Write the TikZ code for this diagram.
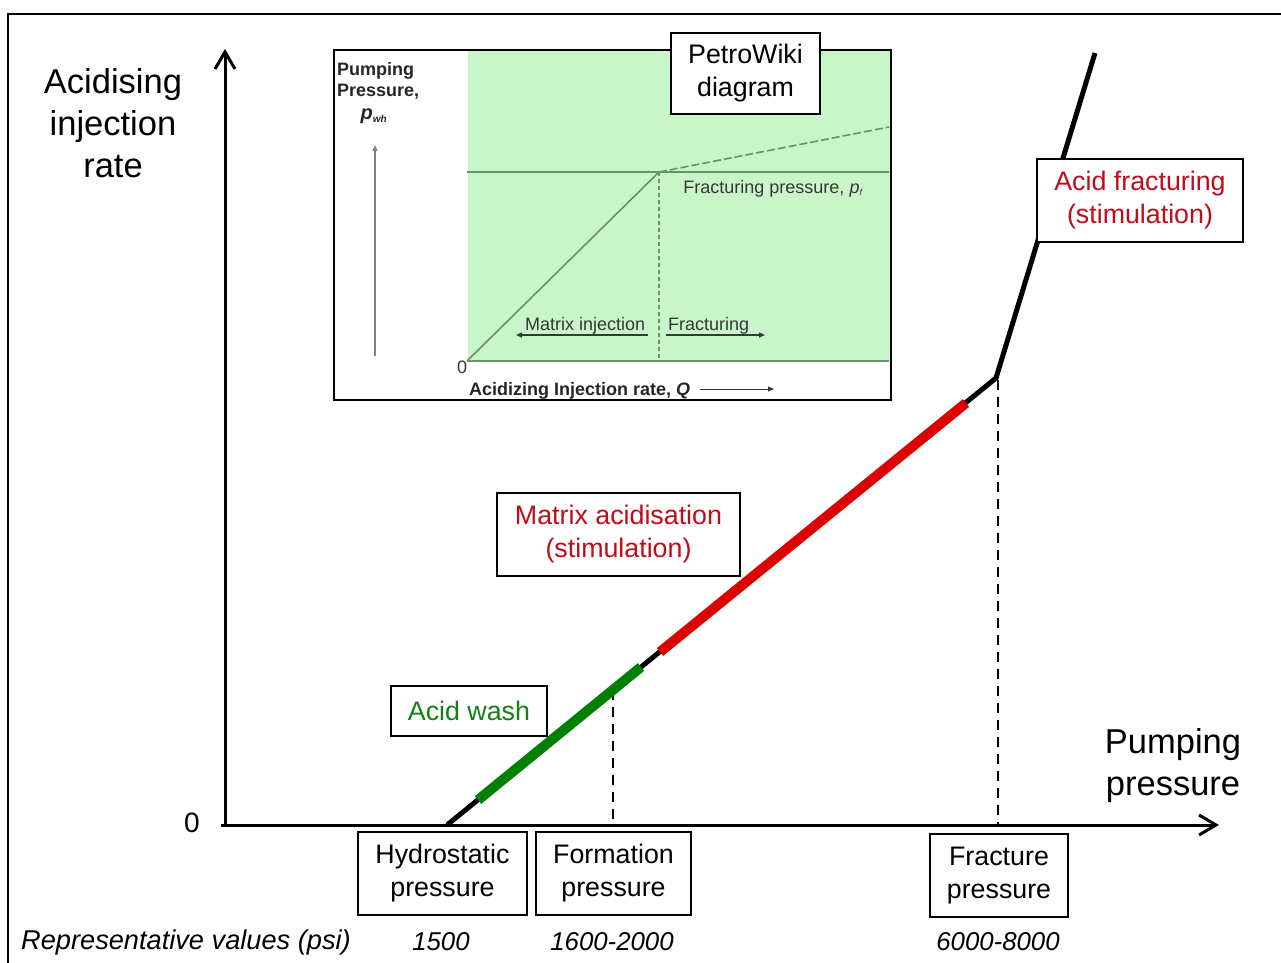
\documentclass[tikz,border=0pt]{standalone}
\usepackage{fontspec}
\setmainfont{Liberation Sans}
\usetikzlibrary{arrows.meta}
\definecolor{insetgreen}{RGB}{200,246,200}
\definecolor{insetline}{RGB}{105,145,105}
\definecolor{insettext}{RGB}{55,55,55}
\definecolor{linegreen}{RGB}{0,128,0}
\definecolor{linered}{RGB}{220,0,0}
\definecolor{txtred}{RGB}{192,12,24}
\definecolor{txtgreen}{RGB}{20,128,20}
\newcommand\fsz[2]{\fontsize{#1}{#2}\selectfont}
\begin{document}
\begin{tikzpicture}[x=1pt,y=-1pt,
  lbl/.style={draw=black, line width=2pt, fill=white, align=center, inner sep=0pt, font=\fsz{26.8}{33}},
  axis/.style={line width=3pt, -{Straight Barb[length=17pt,width=20pt,line width=3pt]}},
  curve/.style={line width=5pt, line join=miter},
  band/.style={line width=10pt},
  guide/.style={line width=2.5pt, dash pattern=on 10pt off 7pt},
  ithin/.style={insetline, line width=1.6pt},
  itxt/.style={text=insettext, inner sep=0pt, font=\fsz{18}{20}},
  ibold/.style={text=black!85, inner sep=0pt, font=\fsz{18}{20}\bfseries},
  iarrow/.style={insettext, line width=1.4pt, -{Triangle[length=6pt,width=5pt]}},
  bigtxt/.style={align=center, inner sep=0pt, font=\fsz{34.5}{42}},
  valtxt/.style={inner sep=0pt, font=\fsz{25.8}{30}\itshape}
]
\useasboundingbox (0,0) rectangle (1281,962);
\clip (0,0) rectangle (1281,962);
% outer frame
\draw[line width=2.5pt] (1300,14) -- (8,14) -- (8,980);

% ---------- inset (PetroWiki) ----------
\node[draw=black, line width=2pt, fill=white, minimum width=557pt, minimum height=350pt, inner sep=0pt] (inset) at (612.5,225) {};
\node[fill=insetgreen, minimum width=422pt, minimum height=310pt, inner sep=0pt] (green) at (678.5,206) {};
\coordinate (i0) at (467,361);
\coordinate (ik) at (659,172);
\coordinate (ihl) at (467,172);
\coordinate (ihr) at (889,172);
\coordinate (ie) at (889,127);
\coordinate (ib) at (659,361);
\coordinate (ibr) at (889,361);
\draw[ithin] (ihl) -- (ihr);
\draw[ithin] (i0) -- (ibr);
\draw[ithin] (i0) -- (ik);
\draw[ithin, dash pattern=on 8pt off 3pt] (ik) -- (ie);
\draw[ithin, dash pattern=on 4pt off 3pt] (ik) -- (ib);
\node[ibold, anchor=base west] (ipump) at (337,75) {Pumping};
\node[ibold, anchor=base west] (ipres) at (337,96) {Pressure,};
\node[ibold, anchor=base, font=\fsz{20}{22}\bfseries] (ipwh) at (374,119) {\itshape p\textsubscript{\fsz{10}{11}wh}};
\coordinate (iya) at (375,356);
\coordinate (iyb) at (375,145);
\draw[iarrow, line width=1.2pt, gray] (iya) -- (iyb);
\node[itxt, anchor=base] (ifp) at (773,193) {Fracturing pressure, {\itshape p\textsubscript{\fsz{9}{10}f}}};
\node[itxt, anchor=base west] (imi) at (525,330) {Matrix injection};
\node[itxt, anchor=base west] (ifr) at (668,330) {Fracturing};
\coordinate (ima) at (648,335);
\coordinate (imb) at (516,335);
\coordinate (ifa) at (666,335);
\coordinate (ifb) at (765,335);
\draw[iarrow] (ima) -- (imb);
\draw[iarrow] (ifa) -- (ifb);
\node[itxt, anchor=base] (izero) at (462,373) {0};
\node[ibold, anchor=base west] (iq) at (469,395) {Acidizing Injection rate, \itshape Q};
\coordinate (iqa) at (700,389);
\coordinate (iqb) at (774,389);
\draw[iarrow, line width=1pt] (iqa) -- (iqb);
\node[lbl, minimum width=149pt, minimum height=81pt] (petro) at (745.5,73.5) {PetroWiki\\diagram};

% ---------- main axes ----------
\coordinate (O) at (225,825);
\coordinate (xs) at (221,825);
\coordinate (xe) at (1219,825);
\coordinate (ye) at (225,49);
\draw[axis] (xs) -- (xe);
\draw[axis] (O) -- (ye);
\node[bigtxt] (ylab) at (113,123) {Acidising\\injection\\rate};
\node[bigtxt] (xlab) at (1173,766) {Pumping\\pressure};
\node[inner sep=0pt, font=\fsz{28}{30}] (zero) at (192,823) {0};

% ---------- curve ----------
\coordinate (P0) at (447,825);
\coordinate (G1) at (478,800);
\coordinate (G2) at (641,667);
\coordinate (R1) at (660,652);
\coordinate (R2) at (966,403);
\coordinate (K) at (996,378);
\coordinate (T) at (1095,53);
\coordinate (F1) at (613,690);
\coordinate (F0) at (613,825);
\coordinate (K0) at (998,825);
\coordinate (K1) at (998,380);
\draw[guide] (F1) -- (F0);
\draw[guide] (K1) -- (K0);
\draw[curve] (P0) -- (K) -- (T);
\draw[band, linegreen] (G1) -- (G2);
\draw[band, linered] (R1) -- (R2);

% ---------- labels ----------
\node[lbl, minimum width=156pt, minimum height=50pt, text=txtgreen] (wash) at (469,711) {Acid wash};
\node[lbl, minimum width=243pt, minimum height=83pt, text=txtred] (matrix) at (618.5,534.5) {Matrix acidisation\\(stimulation)};
\node[lbl, minimum width=206pt, minimum height=83pt, text=txtred] (afrac) at (1140,200.5) {Acid fracturing\\(stimulation)};
\node[lbl, minimum width=169pt, minimum height=83pt] (hydro) at (442.5,873.5) {Hydrostatic\\pressure};
\node[lbl, minimum width=155pt, minimum height=83pt] (form) at (613.5,873.5) {Formation\\pressure};
\node[lbl, minimum width=138pt, minimum height=83pt] (fracp) at (999,875.5) {Fracture\\pressure};

\node[valtxt, anchor=west, font=\fsz{27.2}{30}\itshape] (rep) at (21,942) {Representative values (psi)};
\node[valtxt] (v1) at (441,942) {1500};
\node[valtxt] (v2) at (612,942) {1600-2000};
\node[valtxt] (v3) at (998,942) {6000-8000};
\end{tikzpicture}
\end{document}
